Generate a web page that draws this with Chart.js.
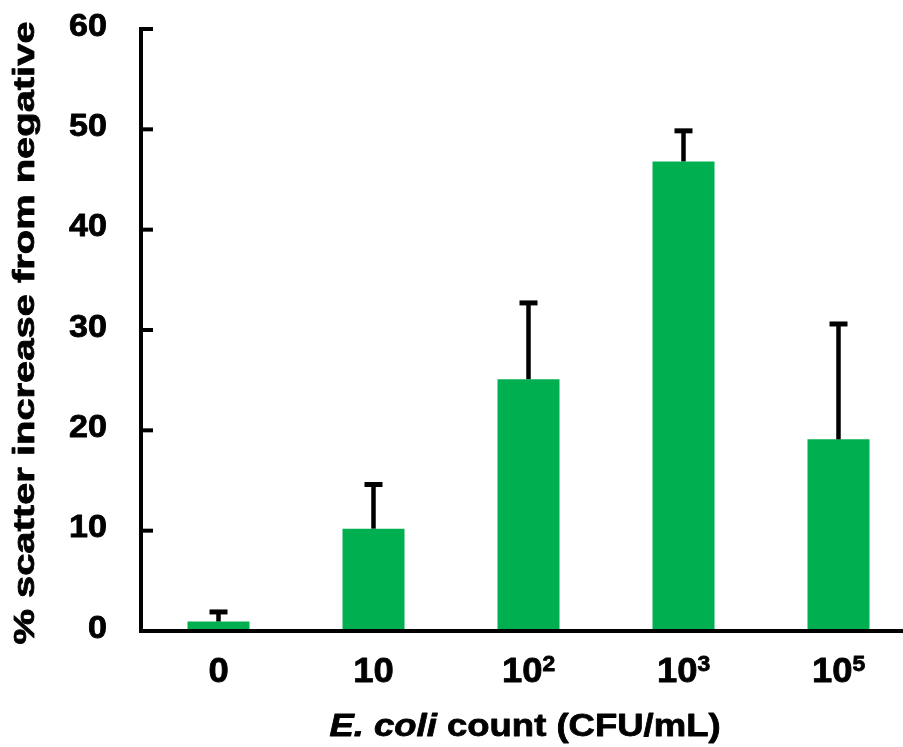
<!DOCTYPE html>
<html>
<head>
<meta charset="utf-8">
<script src="https://cdn.jsdelivr.net/npm/chart.js@4.4.1/dist/chart.umd.min.js"></script>
<style>
  html, body { margin: 0; padding: 0; overflow: hidden; background: #fff; }
  canvas { display: block; }
</style>
</head>
<body>
<canvas id="chart" width="920" height="747" style="width:920px;height:747px"></canvas>
<script>
// values
const categories = ["0", "10", "10^2", "10^3", "10^5"];
const scatterIncrease = [0.95, 10.2, 25.1, 46.8, 19.1];
const errorPlus = [0.95, 4.4, 7.6, 3.05, 11.5];
const yMin = 0;
const yMax = 60;
const yStep = 10;
const yTitle = "% scatter increase from negative";
const xTitleItalic = "E. coli";
const xTitleRest = " count (CFU/mL)";

const FAMILY = '"Liberation Sans", Arial, sans-serif';

function font(size, style) {
  return (style || "bold") + " " + size + "px " + FAMILY;
}

// fill plus a thin stroke, the original text is a bit heavier than plain bold
function heavyText(ctx, text, x, y) {
  ctx.fillText(text, x, y);
  ctx.strokeText(text, x, y);
}

// upper error bars, drawn from the bar top
const errorBars = {
  id: "errorBars",
  afterDatasetsDraw(chart) {
    const ctx = chart.ctx;
    const y = chart.scales.y;
    const meta = chart.getDatasetMeta(0);
    ctx.save();
    ctx.strokeStyle = "#000";
    meta.data.forEach((bar, i) => {
      const top = y.getPixelForValue(scatterIncrease[i]);
      const end = y.getPixelForValue(scatterIncrease[i] + errorPlus[i]);
      ctx.lineWidth = 4.5;
      ctx.beginPath();
      ctx.moveTo(bar.x, top);
      ctx.lineTo(bar.x, end);
      ctx.stroke();
      ctx.lineWidth = 5;
      ctx.beginPath();
      ctx.moveTo(bar.x - 9, end);
      ctx.lineTo(bar.x + 9, end);
      ctx.stroke();
    });
    ctx.restore();
  },
};

// inner tick marks, tick labels (with superscripts) and axis titles
const axisText = {
  id: "axisText",
  afterDraw(chart) {
    const { ctx, chartArea } = chart;
    const x = chart.scales.x;
    const y = chart.scales.y;
    ctx.save();
    ctx.fillStyle = "#000";
    ctx.strokeStyle = "#000";

    ctx.lineWidth = 4;
    y.ticks.forEach((t) => {
      const py = y.getPixelForValue(t.value);
      ctx.beginPath();
      ctx.moveTo(chartArea.left, py);
      ctx.lineTo(chartArea.left + 12, py);
      ctx.stroke();
    });

    ctx.lineWidth = 0.8;
    ctx.lineJoin = "round";

    // y tick labels
    ctx.font = font(31);
    ctx.textAlign = "right";
    ctx.textBaseline = "middle";
    y.ticks.forEach((t) => {
      ctx.save();
      ctx.translate(107, y.getPixelForValue(t.value) - 2);
      ctx.scale(1.1, 1);
      heavyText(ctx, String(t.value), 0, 0);
      ctx.restore();
    });

    // x tick labels
    ctx.textAlign = "left";
    ctx.textBaseline = "alphabetic";
    const sx = 1.04;
    x.ticks.forEach((t, i) => {
      const parts = categories[i].split("^");
      const cx = x.getPixelForTick(i);
      ctx.font = font(35);
      const wBase = ctx.measureText(parts[0]).width;
      ctx.font = font(22);
      const wSup = parts[1] ? ctx.measureText(parts[1]).width : 0;
      const left = cx - ((wBase + wSup) * sx) / 2;
      ctx.save();
      ctx.translate(left, 682);
      ctx.scale(sx, 1);
      ctx.font = font(35);
      heavyText(ctx, parts[0], 0, 0);
      if (parts[1]) {
        ctx.font = font(22);
        heavyText(ctx, parts[1], wBase, -11);
      }
      ctx.restore();
    });

    // x title, "E. coli" in italics
    ctx.font = font(32, "italic bold");
    const w1 = ctx.measureText(xTitleItalic).width;
    ctx.font = font(32);
    const w2 = ctx.measureText(xTitleRest).width;
    const tsx = 1.14;
    ctx.save();
    ctx.translate(525 - ((w1 + w2) * tsx) / 2, 736);
    ctx.scale(tsx, 1);
    ctx.font = font(32, "italic bold");
    heavyText(ctx, xTitleItalic, 0, 0);
    ctx.font = font(32);
    heavyText(ctx, xTitleRest, w1, 0);
    ctx.restore();

    // y title
    ctx.save();
    ctx.translate(34, 333);
    ctx.rotate(-Math.PI / 2);
    ctx.scale(1.33, 1);
    ctx.textAlign = "center";
    ctx.font = font(30);
    heavyText(ctx, yTitle, 0, 0);
    ctx.restore();

    ctx.restore();
  },
};

const ctx = document.getElementById("chart").getContext("2d");
const chart = new Chart(ctx, {
  type: "bar",
  data: {
    labels: categories,
    datasets: [
      {
        data: scatterIncrease,
        backgroundColor: "#00B050",
        barPercentage: 0.4,
        categoryPercentage: 1,
      },
    ],
  },
  options: {
    responsive: false,
    animation: false,
    devicePixelRatio: 1,
    layout: { padding: { left: 141, top: 29, right: 4, bottom: 116 } },
    plugins: {
      legend: { display: false },
      tooltip: { enabled: false },
    },
    scales: {
      x: {
        grid: { display: false, drawTicks: false },
        ticks: { display: false },
        border: { display: true, color: "#000", width: 4, z: 1 },
      },
      y: {
        min: yMin,
        max: yMax,
        ticks: { display: false, stepSize: yStep },
        grid: { display: false, drawTicks: false },
        border: { display: true, color: "#000", width: 4, z: 1 },
      },
    },
  },
  plugins: [errorBars, axisText],
});
</script>
</body>
</html>
